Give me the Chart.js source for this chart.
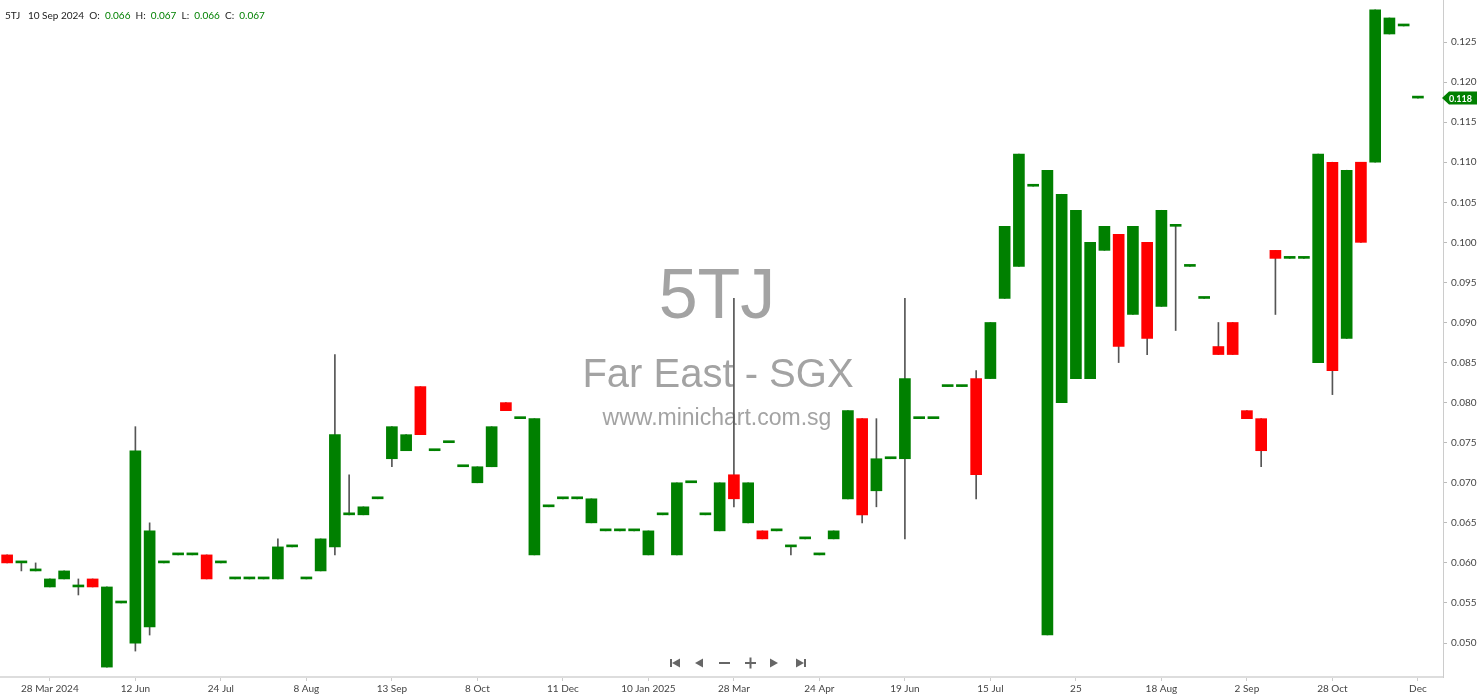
<!DOCTYPE html>
<html>
<head>
<meta charset="utf-8">
<script src="https://cdn.jsdelivr.net/npm/chart.js@4.4.1/dist/chart.umd.min.js"></script>
<style>
  html, body { margin: 0; padding: 0; background: #fff; }
  #wrap { position: relative; width: 1480px; height: 699px; }
  #head { position: absolute; left: 5px; top: 9px; font: 10px Lato, sans-serif; color: #222; white-space: pre; }
  #head .g { color: #008000; }
</style>
</head>
<body>
<div id="wrap">
  <canvas id="c" width="1480" height="699"></canvas>
  <div id="head">5TJ   10 Sep 2024  O:  <span class="g">0.066</span>  H:  <span class="g">0.067</span>  L:  <span class="g">0.066</span>  C:  <span class="g">0.067</span></div>
</div>
<script>
// candle values, one entry per bar
const opens  = [0.061,0.060,0.059,0.057,0.058,0.057,0.058,0.047,0.055,0.050,
                0.052,0.060,0.061,0.061,0.061,0.060,0.058,0.058,0.058,0.058,
                0.062,0.058,0.059,0.062,0.066,0.066,0.068,0.073,0.074,0.082,
                0.074,0.075,0.072,0.070,0.072,0.080,0.078,0.061,0.067,0.068,
                0.068,0.065,0.064,0.064,0.064,0.061,0.066,0.061,0.070,0.066,
                0.064,0.071,0.065,0.064,0.064,0.062,0.063,0.061,0.063,0.068,
                0.078,0.069,0.073,0.073,0.078,0.078,0.082,0.082,0.083,0.083,
                0.093,0.097,0.107,0.051,0.080,0.083,0.083,0.099,0.101,0.091,
                0.100,0.092,0.102,0.097,0.093,0.087,0.090,0.079,0.078,0.099,
                0.098,0.098,0.085,0.110,0.088,0.110,0.110,0.126,0.127,0.118];
const closes = [0.060,0.060,0.059,0.058,0.059,0.057,0.057,0.057,0.055,0.074,
                0.064,0.060,0.061,0.061,0.058,0.060,0.058,0.058,0.058,0.062,
                0.062,0.058,0.063,0.076,0.066,0.067,0.068,0.077,0.076,0.076,
                0.074,0.075,0.072,0.072,0.077,0.079,0.078,0.078,0.067,0.068,
                0.068,0.068,0.064,0.064,0.064,0.064,0.066,0.070,0.070,0.066,
                0.070,0.068,0.070,0.063,0.064,0.062,0.063,0.061,0.064,0.079,
                0.066,0.073,0.073,0.083,0.078,0.078,0.082,0.082,0.071,0.090,
                0.102,0.111,0.107,0.109,0.106,0.104,0.100,0.102,0.087,0.102,
                0.088,0.104,0.102,0.097,0.093,0.086,0.086,0.078,0.074,0.098,
                0.098,0.098,0.111,0.084,0.109,0.100,0.129,0.128,0.127,0.118];
const highs  = [0.061,0.060,0.060,0.058,0.059,0.058,0.058,0.057,0.055,0.077,
                0.065,0.060,0.061,0.061,0.061,0.060,0.058,0.058,0.058,0.063,
                0.062,0.058,0.063,0.086,0.071,0.067,0.068,0.077,0.076,0.082,
                0.074,0.075,0.072,0.072,0.077,0.080,0.078,0.078,0.067,0.068,
                0.068,0.068,0.064,0.064,0.064,0.064,0.066,0.070,0.070,0.066,
                0.070,0.093,0.070,0.064,0.064,0.062,0.063,0.061,0.064,0.079,
                0.078,0.078,0.073,0.093,0.078,0.078,0.082,0.082,0.084,0.090,
                0.102,0.111,0.107,0.109,0.106,0.104,0.100,0.102,0.101,0.102,
                0.100,0.104,0.102,0.097,0.093,0.090,0.090,0.079,0.078,0.099,
                0.098,0.098,0.111,0.110,0.109,0.110,0.129,0.128,0.127,0.118];
const lows   = [0.060,0.059,0.059,0.057,0.058,0.056,0.057,0.047,0.055,0.049,
                0.051,0.060,0.061,0.061,0.058,0.060,0.058,0.058,0.058,0.058,
                0.062,0.058,0.059,0.061,0.066,0.066,0.068,0.072,0.074,0.076,
                0.074,0.075,0.072,0.070,0.072,0.079,0.078,0.061,0.067,0.068,
                0.068,0.065,0.064,0.064,0.064,0.061,0.066,0.061,0.070,0.066,
                0.064,0.067,0.065,0.063,0.064,0.061,0.063,0.061,0.063,0.068,
                0.065,0.067,0.073,0.063,0.078,0.078,0.082,0.082,0.068,0.083,
                0.093,0.097,0.107,0.051,0.080,0.083,0.083,0.099,0.085,0.091,
                0.086,0.092,0.089,0.097,0.093,0.086,0.086,0.078,0.072,0.091,
                0.098,0.098,0.085,0.081,0.088,0.100,0.110,0.126,0.127,0.118];

// date labels shown under every sixth bar, starting at bar 3
const tickLabels = ['28 Mar 2024','12 Jun','24 Jul','8 Aug','13 Sep','8 Oct','11 Dec',
                    '10 Jan 2025','28 Mar','24 Apr','19 Jun','15 Jul','25','18 Aug',
                    '2 Sep','28 Oct','Dec'];
const tickIdx = tickLabels.map((_, k) => 3 + 6 * k);
const lastPrice = 0.118;

const GREEN = '#008000', RED = '#ff0000';
const bodyColors = opens.map((o, i) => closes[i] < o ? RED : GREEN);

const decor = {
  id: 'decor',
  beforeDatasetsDraw(chart) {
    const ctx = chart.ctx;
    ctx.save();
    ctx.fillStyle = '#a3a3a3';
    ctx.textAlign = 'center';
    ctx.textBaseline = 'alphabetic';
    ctx.font = '70px "Liberation Sans", Arial, sans-serif';
    ctx.fillText('5TJ', 717, 318);
    ctx.font = '40px "Liberation Sans", Arial, sans-serif';
    ctx.fillText('Far East - SGX', 718, 387);
    ctx.font = '23px "Liberation Sans", Arial, sans-serif';
    ctx.fillText('www.minichart.com.sg', 717, 425);
    ctx.restore();
  },
  afterDraw(chart) {
    const ctx = chart.ctx;
    // last price tag
    const y = chart.scales.y.getPixelForValue(lastPrice);
    const x0 = chart.chartArea.right - 1;
    ctx.save();
    ctx.fillStyle = GREEN;
    ctx.beginPath();
    ctx.moveTo(x0, y);
    ctx.lineTo(x0 + 7, y - 6.5);
    ctx.lineTo(1477, y - 6.5);
    ctx.lineTo(1477, y + 6.5);
    ctx.lineTo(x0 + 7, y + 6.5);
    ctx.closePath();
    ctx.fill();
    ctx.fillStyle = '#fff';
    ctx.font = 'bold 9px Lato, sans-serif';
    ctx.textBaseline = 'middle';
    ctx.fillText(lastPrice.toFixed(3), x0 + 7, y + 0.5);

    // navigation buttons
    ctx.fillStyle = '#666';
    const cy = 663;
    ctx.fillRect(670, cy - 4, 2, 8);
    tri(ctx, 680, 672, cy);
    tri(ctx, 703, 695, cy);
    ctx.fillRect(719, cy - 1, 11, 2);
    ctx.fillRect(745, cy - 1, 11, 2);
    ctx.fillRect(749.5, cy - 5.5, 2, 11);
    tri(ctx, 770, 778, cy);
    tri(ctx, 796, 804, cy);
    ctx.fillRect(804, cy - 4, 2, 8);
    ctx.restore();
  }
};
function tri(ctx, xa, xb, cy) {
  ctx.beginPath();
  ctx.moveTo(xa, cy - 4.5);
  ctx.lineTo(xb, cy);
  ctx.lineTo(xa, cy + 4.5);
  ctx.closePath();
  ctx.fill();
}

new Chart(document.getElementById('c'), {
  type: 'bar',
  data: {
    datasets: [{
      label: 'body',
      data: opens.map((o, i) => ({ x: i, y: [o, closes[i]] })),
      backgroundColor: bodyColors,
      barThickness: 11,
      minBarLength: 2,
      grouped: false
    }, {
      label: 'wick',
      data: lows.map((l, i) => ({ x: i, y: [l, highs[i]] })),
      backgroundColor: '#555',
      barThickness: 1,
      grouped: false
    }]
  },
  plugins: [decor],
  options: {
    responsive: false,
    animation: false,
    layout: { padding: 0 },
    plugins: { legend: { display: false }, tooltip: { enabled: false } },
    scales: {
      x: {
        type: 'linear',
        offset: false,
        min: -0.5,
        max: 100.76,
        afterBuildTicks: s => { s.ticks = tickIdx.map(v => ({ value: v })); },
        afterFit: s => { s.height = 22; s.paddingLeft = 0; s.paddingRight = 0; },
        grid: { offset: false, drawOnChartArea: false, tickLength: 4, color: '#ccc' },
        border: { color: '#ddd', width: 2 },
        ticks: {
          autoSkip: false, maxRotation: 0, padding: 2,
          color: '#444', font: { family: 'Lato', size: 10 },
          callback: v => tickLabels[tickIdx.indexOf(v)] || ''
        }
      },
      y: {
        position: 'right',
        min: 0.045764,
        max: 0.130241,
        afterBuildTicks: s => { s.ticks = s.ticks.filter(t => t.value < 0.1255); },
        afterFit: s => { s.width = 37; s.paddingTop = 0; s.paddingBottom = 0; },
        grid: { drawOnChartArea: false, tickLength: 4, color: '#bbb' },
        border: { color: '#ccc' },
        ticks: {
          stepSize: 0.005, includeBounds: false, padding: 4,
          color: '#444', font: { family: 'Lato', size: 10 },
          callback: v => v.toFixed(3)
        }
      }
    }
  }
});
</script>
</body>
</html>
